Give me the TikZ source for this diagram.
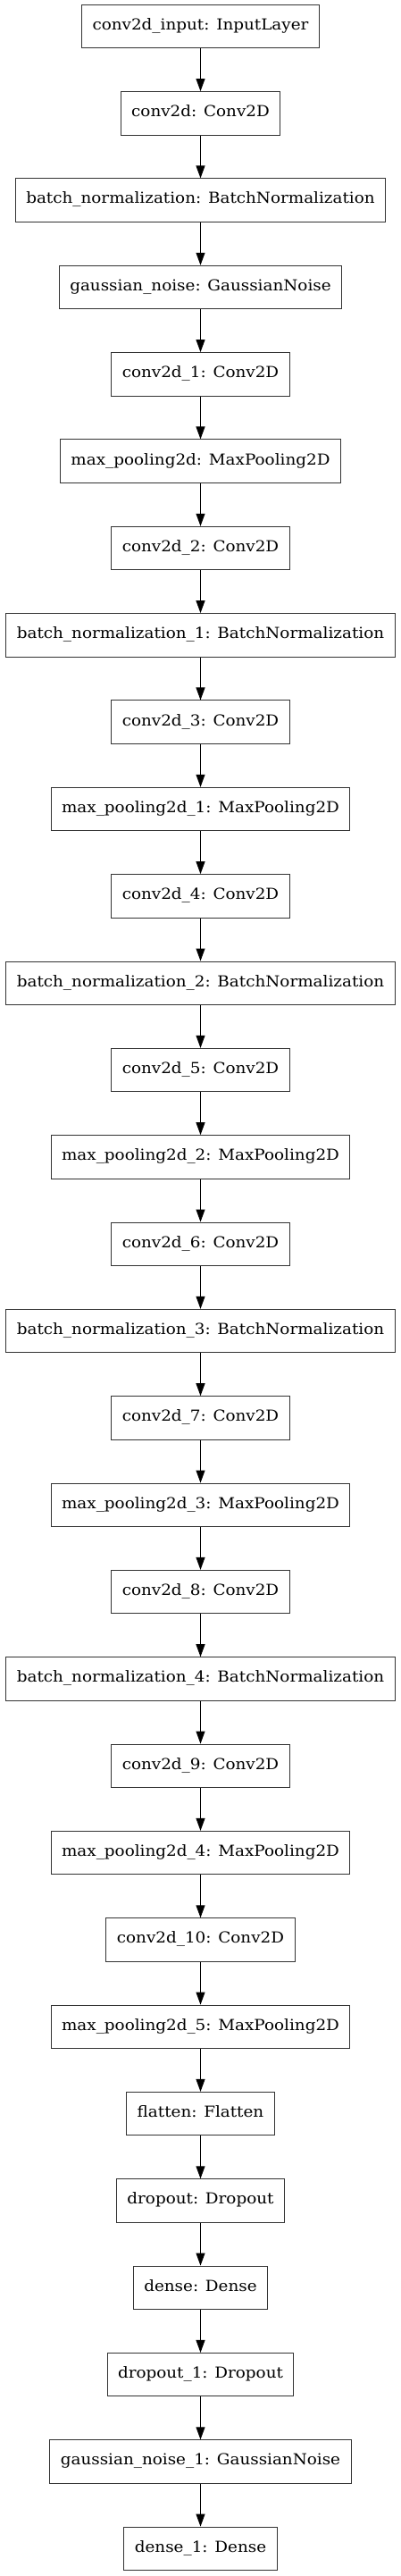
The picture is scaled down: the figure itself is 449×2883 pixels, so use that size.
\documentclass[tikz,border=0pt]{standalone}
\usepackage{fontspec}
\setmainfont{DejaVu Serif}[FakeStretch=1.08]
\usetikzlibrary{arrows.meta}
\tikzset{
  layer/.style={draw=black!80, line width=1pt, fill=white, minimum height=48.5pt,
    inner xsep=12pt, inner ysep=0pt, font=\fontsize{17}{19}\selectfont, anchor=center},
  conn/.style={draw=black, line width=1pt, -{Triangle[length=14pt,width=10pt]}}
}
\begin{document}
\begin{tikzpicture}[x=1pt,y=-1pt]
\useasboundingbox (0,0) rectangle (449,2883);
\foreach \t [count=\i] in {
conv2d\_input: InputLayer,
conv2d: Conv2D,
batch\_normalization: BatchNormalization,
gaussian\_noise: GaussianNoise,
conv2d\_1: Conv2D,
max\_pooling2d: MaxPooling2D,
conv2d\_2: Conv2D,
batch\_normalization\_1: BatchNormalization,
conv2d\_3: Conv2D,
max\_pooling2d\_1: MaxPooling2D,
conv2d\_4: Conv2D,
batch\_normalization\_2: BatchNormalization,
conv2d\_5: Conv2D,
max\_pooling2d\_2: MaxPooling2D,
conv2d\_6: Conv2D,
batch\_normalization\_3: BatchNormalization,
conv2d\_7: Conv2D,
max\_pooling2d\_3: MaxPooling2D,
conv2d\_8: Conv2D,
batch\_normalization\_4: BatchNormalization,
conv2d\_9: Conv2D,
max\_pooling2d\_4: MaxPooling2D,
conv2d\_10: Conv2D,
max\_pooling2d\_5: MaxPooling2D,
flatten: Flatten,
dropout: Dropout,
dense: Dense,
dropout\_1: Dropout,
gaussian\_noise\_1: GaussianNoise,
dense\_1: Dense}
{
  \node[layer] (n\i) at (224.5, {29.5+97.34*(\i-1)}) {\strut\t};
}
\foreach \i [evaluate=\i as \j using int(\i+1)] in {1,...,29}
{
  \draw[conn] (n\i) -- (n\j);
}
\end{tikzpicture}
\end{document}
